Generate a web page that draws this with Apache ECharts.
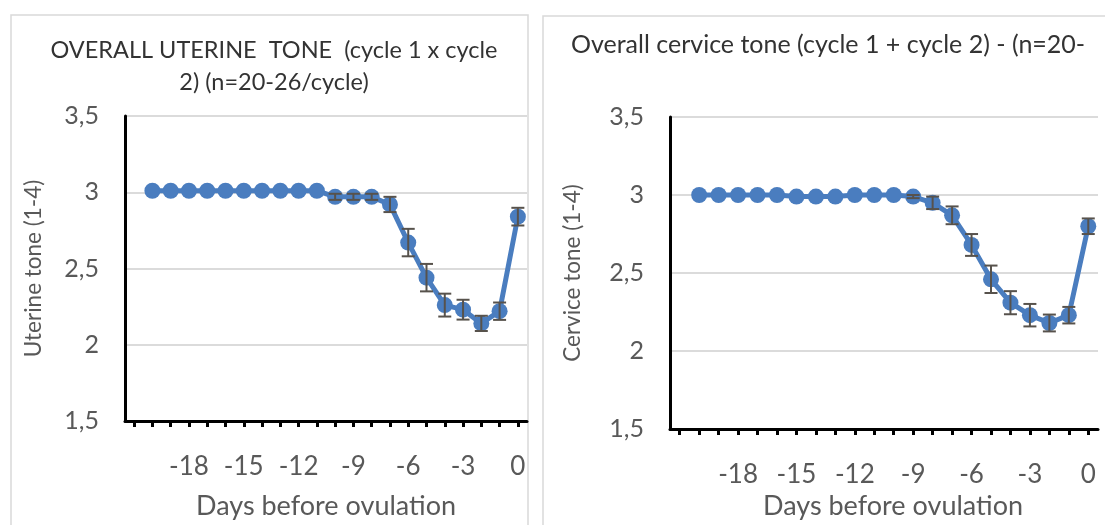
<!DOCTYPE html>
<html>
<head>
<meta charset="utf-8">
<script src="https://cdn.jsdelivr.net/npm/echarts@6/dist/echarts.min.js"></script>
<style>
  html, body { margin: 0; padding: 0; background: #fff; }
  #chart { width: 1105px; height: 525px; }
</style>
</head>
<body>
<div id="chart"></div>
<script>
// days before ovulation (-21 is an empty slot on the category axis)
const days = ['-21', '-20', '-19', '-18', '-17', '-16', '-15', '-14', '-13', '-12', '-11',
  '-10', '-9', '-8', '-7', '-6', '-5', '-4', '-3', '-2', '-1', '0']

// overall uterine tone, mean and error (SEM)
const uterineMean = ['-', 3.01, 3.01, 3.01, 3.01, 3.01, 3.01, 3.01, 3.01, 3.01, 3.01,
  2.97, 2.97, 2.97, 2.92, 2.67, 2.44, 2.26, 2.23, 2.14, 2.22, 2.84]
const uterineErr = [0, 0, 0, 0, 0, 0, 0, 0, 0, 0, 0,
  0.02, 0.02, 0.02, 0.05, 0.09, 0.09, 0.075, 0.065, 0.05, 0.057, 0.058]

// overall cervix tone, mean and error (SEM)
const cervixMean = ['-', 3.0, 3.0, 3.0, 3.0, 3.0, 2.99, 2.99, 2.99, 3.0, 3.0,
  3.0, 2.99, 2.95, 2.87, 2.68, 2.46, 2.31, 2.23, 2.18, 2.23, 2.80]
const cervixErr = [0, 0, 0, 0, 0, 0, 0, 0, 0, 0, 0,
  0, 0.01, 0.04, 0.057, 0.07, 0.088, 0.074, 0.072, 0.054, 0.053, 0.05]

const yTicks = [1.5, 2, 2.5, 3, 3.5]

const FONT = 'Lato'
const BLUE = '#4a7dbf'
const GREY = '#595959'

const chart = echarts.init(document.getElementById('chart'), null, { renderer: 'canvas' })

function errData(mean, err) {
  const out = []
  mean.forEach((m, i) => {
    if (m !== '-' && err[i] > 0) out.push([i, m - err[i], m + err[i]])
  })
  return out
}

function errRender(params, api) {
  const lo = api.coord([api.value(0), api.value(1)])
  const hi = api.coord([api.value(0), api.value(2)])
  const cap = 6.5
  const style = { stroke: '#57524c', lineWidth: 2 }
  return {
    type: 'group',
    children: [
      { type: 'line', shape: { x1: lo[0], y1: lo[1], x2: hi[0], y2: hi[1] }, style },
      { type: 'line', shape: { x1: lo[0] - cap, y1: lo[1], x2: lo[0] + cap, y2: lo[1] }, style },
      { type: 'line', shape: { x1: hi[0] - cap, y1: hi[1], x2: hi[0] + cap, y2: hi[1] }, style }
    ]
  }
}

function xAxis(gridIndex, nameGap, shift) {
  return {
    type: 'category',
    gridIndex,
    data: days,
    boundaryGap: true,
    name: 'Days before ovulation',
    nameLocation: 'middle',
    nameGap,
    nameTextStyle: { fontFamily: FONT, fontSize: 27, color: GREY, padding: [0, 0, 0, shift] },
    axisLine: { lineStyle: { color: '#000', width: 3 } },
    axisTick: { show: true, interval: 0, alignWithLabel: true, length: 6, lineStyle: { color: '#000', width: 3 } },
    axisLabel: {
      interval: (index) => index > 0 && index % 3 === 0,
      margin: 33,
      fontFamily: FONT,
      fontSize: 26,
      color: GREY
    },
    splitLine: { show: false }
  }
}

function yAxis(gridIndex, name, gap) {
  return {
    type: 'value',
    gridIndex,
    min: yTicks[0],
    max: yTicks[yTicks.length - 1],
    interval: 0.5,
    name,
    nameLocation: 'middle',
    nameGap: gap,
    nameTextStyle: { fontFamily: FONT, fontSize: 22.5, color: GREY },
    axisLine: { show: true, lineStyle: { color: '#000', width: 3 } },
    axisTick: { show: false },
    axisLabel: {
      margin: 26,
      fontFamily: FONT,
      fontSize: 25,
      color: GREY,
      formatter: (v) => String(v).replace('.', ',')
    },
    splitLine: { lineStyle: { color: '#cfcfcf', width: 1.5 } }
  }
}

function lineSeries(idx, data) {
  return {
    type: 'line',
    xAxisIndex: idx,
    yAxisIndex: idx,
    data,
    symbol: 'circle',
    symbolSize: 16,
    showSymbol: true,
    showAllSymbol: true,
    itemStyle: { color: BLUE },
    lineStyle: { color: BLUE, width: 5 },
    z: 3,
    animation: false
  }
}

function errSeries(idx, mean, err) {
  return {
    type: 'custom',
    xAxisIndex: idx,
    yAxisIndex: idx,
    data: errData(mean, err),
    renderItem: errRender,
    z: 4,
    animation: false
  }
}

chart.setOption({
  backgroundColor: '#fff',
  animation: false,
  title: [
    {
      text: 'OVERALL UTERINE  TONE  (cycle 1 x cycle\n2) (n=20-26/cycle)',
      left: 269,
      top: 29,
      textAlign: 'center',
      textStyle: { fontFamily: FONT, fontSize: 23.5, fontWeight: 'normal', color: '#333', lineHeight: 32 }
    },
    {
      text: 'Overall cervice tone (cycle 1 + cycle 2) - (n=20-',
      left: 566,
      top: 25,
      textStyle: { fontFamily: FONT, fontSize: 25, fontWeight: 'normal', color: '#333', lineHeight: 30 }
    }
  ],
  graphic: [
    { type: 'rect', shape: { x: 11, y: 15, width: 517, height: 530 }, style: { fill: 'none', stroke: '#d9d9d9', lineWidth: 1.5 }, silent: true },
    { type: 'rect', shape: { x: 543, y: 16, width: 600, height: 530 }, style: { fill: 'none', stroke: '#d9d9d9', lineWidth: 1.5 }, silent: true }
  ],
  grid: [
    { left: 125, right: 578, top: 116, bottom: 104 },
    { left: 670, right: 7, top: 117, bottom: 95 }
  ],
  xAxis: [xAxis(0, 72, 0), xAxis(1, 62, 18)],
  yAxis: [yAxis(0, 'Uterine tone (1-4)', 80), yAxis(1, 'Cervice tone (1-4)', 86)],
  series: [
    lineSeries(0, uterineMean),
    errSeries(0, uterineMean, uterineErr),
    lineSeries(1, cervixMean),
    errSeries(1, cervixMean, cervixErr)
  ]
})
</script>
</body>
</html>
